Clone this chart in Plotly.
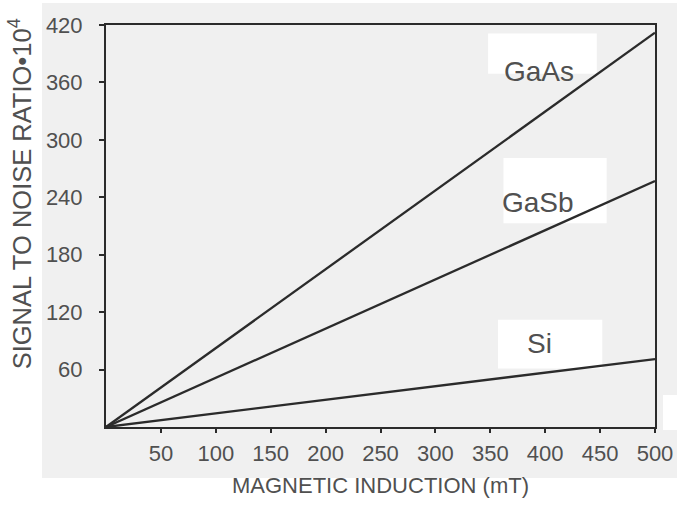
import plotly.graph_objects as go

# ---- data ----
induction = [0, 500]
gaas = [0, 412]
gasb = [0, 257]
si = [0, 71]
x_ticks = [50, 100, 150, 200, 250, 300, 350, 400, 450, 500]
y_ticks = [60, 120, 180, 240, 300, 360, 420]
labels = ["GaAs", "GaSb", "Si"]
label_x = [394, 393, 395]
label_y = [371, 235, 87]
# white label patches (x0, x1, y0, y1) in data units
box_x0 = [348, 362, 357]
box_x1 = [447, 456, 452]
box_y0 = [369, 213, 61]
box_y1 = [411, 281, 112]

LINE = "#2b2b2b"
TXT = "#505050"
SANS = "Liberation Sans, Arial, sans-serif"

fig = go.Figure()
for ys in (gaas, gasb, si):
    fig.add_trace(go.Scatter(x=induction, y=ys, mode="lines",
                             line=dict(color=LINE, width=2.3),
                             showlegend=False, hoverinfo="skip"))

shapes = [
    # gray panel
    dict(type="rect", xref="paper", yref="paper", x0=-0.1166, x1=1.06,
         y0=-0.1269, y1=1.0547, fillcolor="#f0f0f0", line=dict(width=0), layer="below"),
    dict(type="rect", xref="paper", yref="paper", x0=1.0146, x1=1.06,
         y0=-0.0075, y1=0.0796, fillcolor="#ffffff", line=dict(width=0), layer="below"),
]
for a, b, c, d in zip(box_x0, box_x1, box_y0, box_y1):
    shapes.append(dict(type="rect", xref="x", yref="y", x0=a, x1=b, y0=c, y1=d,
                       fillcolor="#ffffff", line=dict(width=0), layer="below"))

annotations = []
for t, lx, ly in zip(labels, label_x, label_y):
    annotations.append(dict(x=lx, y=ly, xref="x", yref="y", text=t, showarrow=False,
                            font=dict(family=SANS, size=28, color=TXT)))
annotations.append(dict(x=-0.156, y=0.5796, xref="paper", yref="paper",
                        text="SIGNAL TO NOISE RATIO•10<sup>4</sup>", textangle=-90,
                        showarrow=False, xanchor="center", yanchor="middle",
                        font=dict(family=SANS, size=25.5, color=TXT)))
annotations.append(dict(x=0.5, y=-0.1455, xref="paper", yref="paper",
                        text="MAGNETIC INDUCTION (mT)", showarrow=False,
                        xanchor="center", yanchor="middle",
                        font=dict(family=SANS, size=22, color=TXT)))

fig.update_layout(
    width=677, height=506,
    margin=dict(l=106, r=22, t=25, b=79),
    paper_bgcolor="#ffffff", plot_bgcolor="#f0f0f0",
    shapes=shapes, annotations=annotations,
    xaxis=dict(range=[0, 500], tickvals=x_ticks, ticks="outside", ticklen=4,
               tickcolor=LINE, tickwidth=1.5, showgrid=False, zeroline=False,
               showline=True, mirror=True, linecolor=LINE, linewidth=2, automargin=False,
               tickfont=dict(family=SANS, size=22, color=TXT), ticklabelstandoff=2),
    yaxis=dict(range=[0, 420], tickvals=y_ticks, ticks="outside", ticklen=5,
               tickcolor=LINE, tickwidth=1.5, showgrid=False, zeroline=False,
               showline=True, mirror=True, linecolor=LINE, linewidth=2, automargin=False,
               tickfont=dict(family=SANS, size=22, color=TXT), ticklabelstandoff=12),
)

fig.write_html("out.html")
